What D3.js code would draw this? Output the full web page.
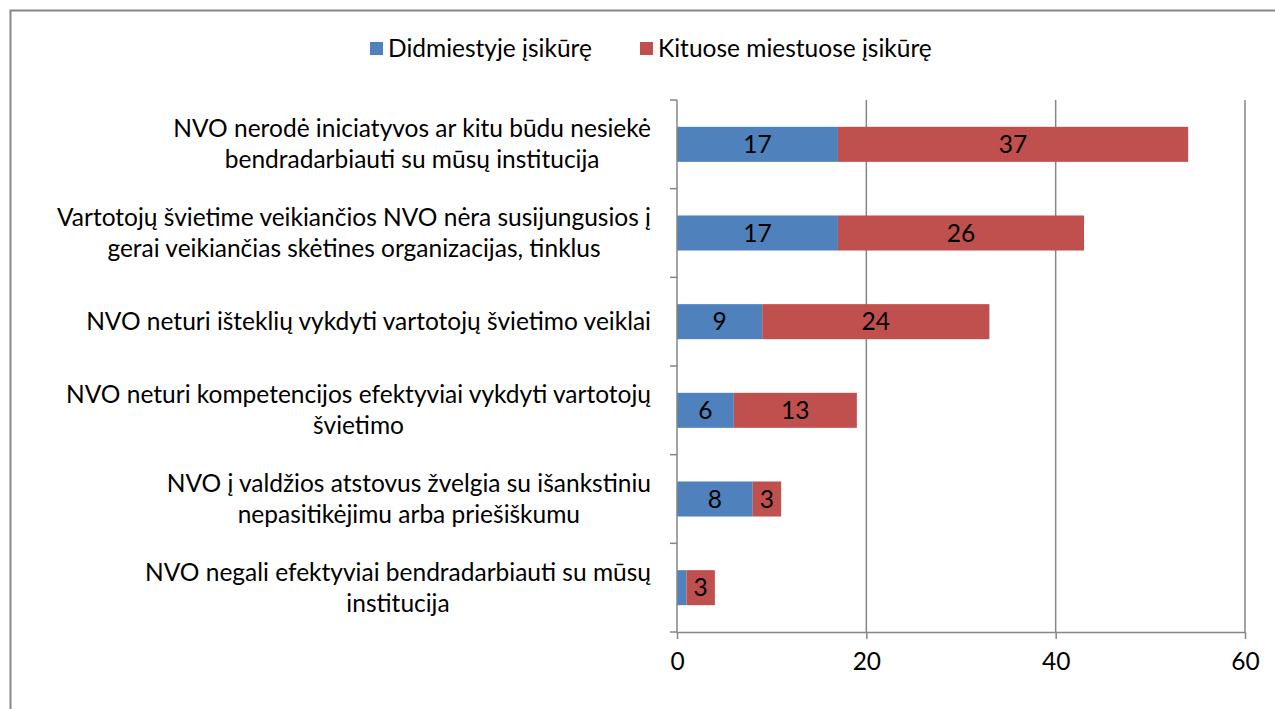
<html>

<head>
  <meta charset="UTF-8">
  <title>NVO bendradarbiavimas</title>
  <script src="https://d3js.org/d3.v7.min.js"></script>
  <style>
    body {
      margin: 0;
      background-color: white;
    }
    text {
      font-family: Lato, "Open Sans", sans-serif;
      fill: black;
    }
  </style>
</head>

<body>
  <svg></svg>
</body>

<script>
  // category labels, one entry per line as in the original
  let categories = [
    ["NVO nerodė iniciatyvos ar kitu būdu nesiekė", "bendradarbiauti su mūsų institucija"],
    ["Vartotojų švietime veikiančios NVO nėra susijungusios į", "gerai veikiančias skėtines organizacijas, tinklus"],
    ["NVO neturi išteklių vykdyti vartotojų švietimo veiklai"],
    ["NVO neturi kompetencijos efektyviai vykdyti vartotojų", "švietimo"],
    ["NVO į valdžios atstovus žvelgia su išankstiniu", "nepasitikėjimu arba priešiškumu"],
    ["NVO negali efektyviai bendradarbiauti su mūsų", "institucija"]
  ];
  let seriesNames = ["Didmiestyje įsikūrę", "Kituose miestuose įsikūrę"];
  let bigCity = [17, 17, 9, 6, 8, 1];
  let otherCity = [37, 26, 24, 13, 3, 3];
  let xTicks = [0, 20, 40, 60];

  let width = 1275,
    height = 709;
  let colors = ["#4f81bd", "#c0504d"];
  let fontSize = "24.5px";

  let svg = d3.select("svg")
    .attr("width", width)
    .attr("height", height);

  // chart border (right/bottom fall outside the window)
  svg.append("rect")
    .attr("x", 10.5).attr("y", 10.5)
    .attr("width", width).attr("height", height)
    .attr("fill", "white")
    .attr("stroke", "#868686")
    .attr("stroke-width", 2);

  let rows = categories.map((c, i) => ({
    id: i,
    lines: c,
    values: [bigCity[i], otherCity[i]]
  }));

  let x = d3.scaleLinear().domain([0, 60]).range([677, 1245]);
  let y = d3.scaleBand()
    .domain(rows.map(d => d.id))
    .range([100, 632])
    .paddingInner(0.605)
    .paddingOuter(0.3025);

  // gridlines
  svg.append("g")
    .selectAll("line")
    .data(xTicks.slice(1))
    .enter()
    .append("line")
    .attr("x1", d => x(d)).attr("x2", d => x(d))
    .attr("y1", 100).attr("y2", 632)
    .attr("stroke", "#868686")
    .attr("stroke-width", 1.5);

  // stacked bars
  let stack = d3.stack().keys([0, 1]).value((d, k) => d.values[k]);
  let layers = stack(rows);

  let layer = svg.append("g")
    .selectAll("g")
    .data(layers)
    .enter()
    .append("g")
    .attr("fill", (d, i) => colors[i]);

  layer.selectAll("rect")
    .data(d => d)
    .enter()
    .append("rect")
    .attr("x", d => x(d[0]))
    .attr("width", d => x(d[1]) - x(d[0]))
    .attr("y", d => y(d.data.id))
    .attr("height", y.bandwidth());

  // data labels, hidden when the segment is too narrow
  layer.selectAll("text")
    .data(d => d)
    .enter()
    .append("text")
    .attr("x", d => (x(d[0]) + x(d[1])) / 2)
    .attr("y", d => y(d.data.id) + y.bandwidth() / 2)
    .attr("dy", "0.35em")
    .attr("text-anchor", "middle")
    .style("font-size", fontSize)
    .text(d => (x(d[1]) - x(d[0]) > 20 ? d[1] - d[0] : ""));

  // y axis
  let yAxis = svg.append("g").attr("stroke", "#868686").attr("stroke-width", 1.5);
  yAxis.append("line")
    .attr("x1", x(0)).attr("x2", x(0))
    .attr("y1", 100).attr("y2", 632);
  let bounds = rows.map(d => y(d.id) - y.step() * y.paddingInner() / 2);
  bounds.push(632);
  yAxis.selectAll(".tick")
    .data(bounds)
    .enter()
    .append("line")
    .attr("x1", x(0) - 7).attr("x2", x(0))
    .attr("y1", d => d).attr("y2", d => d);

  // x axis
  let xAxis = d3.axisBottom(x).tickValues(xTicks).tickSize(7).tickSizeOuter(0);
  let xg = svg.append("g")
    .attr("transform", "translate(0,632)")
    .call(xAxis);
  xg.select(".domain").attr("stroke", "#868686").attr("stroke-width", 1.5);
  xg.selectAll(".tick line").attr("stroke", "#868686").attr("stroke-width", 1.5);
  xg.selectAll(".tick text")
    .attr("y", 38)
    .attr("dy", "0")
    .style("font-size", fontSize)
    .style("font-family", "Lato, 'Open Sans', sans-serif")
    .attr("fill", "black");

  // category labels
  let labelRight = 651;
  let lineGap = 31;
  rows.forEach(d => {
    let cy = y(d.id) + y.bandwidth() / 2;
    let t = svg.append("text")
      .attr("text-anchor", "middle")
      .style("font-size", fontSize);
    let spans = d.lines.map((l, i) => t.append("tspan")
      .attr("y", cy + (i - (d.lines.length - 1) / 2) * lineGap)
      .attr("dy", "0.35em")
      .text(l));
    let w = spans[0].node().getComputedTextLength();
    spans.forEach(s => s.attr("x", labelRight - w / 2));
  });

  // legend
  let legend = svg.append("g");
  let legendX = [370, 640];
  seriesNames.forEach((name, i) => {
    legend.append("rect")
      .attr("x", legendX[i]).attr("y", 42)
      .attr("width", 13).attr("height", 13)
      .attr("fill", colors[i]);
    legend.append("text")
      .attr("x", legendX[i] + 18).attr("y", 48.5)
      .attr("dy", "0.35em")
      .style("font-size", fontSize)
      .text(name);
  });
</script>
</html>
